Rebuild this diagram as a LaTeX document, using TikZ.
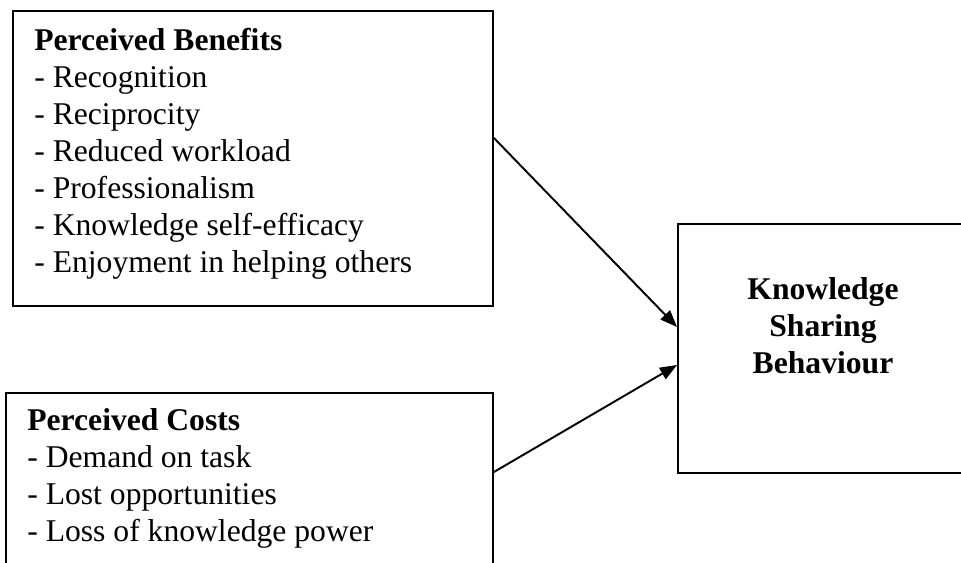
\documentclass[tikz,border=0pt]{standalone}
\usepackage{fontspec}
\setmainfont{Liberation Serif}
\usetikzlibrary{arrows.meta}

\tikzset{
  box/.style={draw=black, line width=1.1pt, rectangle, inner sep=0pt, anchor=north west},
  listtext/.style={align=left, inner sep=0pt, anchor=north west, font=\fontsize{18}{21}\selectfont},
  headtext/.style={align=center, inner sep=0pt, anchor=north, font=\fontsize{18}{21}\selectfont\bfseries},
  link/.style={draw=black, line width=1.1pt, -{Triangle[length=0.34cm,width=0.26cm]}}
}

\begin{document}
\begin{tikzpicture}
            \clip (0,0) rectangle (19.22,11.26);

            % the three boxes
            \node[box, minimum width=9.60cm, minimum height=5.90cm] (benefits) at (0.24,11.06) {};
            \node[box, minimum width=9.74cm, minimum height=4.50cm] (costs) at (0.10,3.42) {};
            \node[box, minimum width=5.86cm, minimum height=4.98cm] (behaviour) at (13.54,6.80) {};

            % their texts
            \node[listtext] (benefitslist) at (0.68,10.70) {\textbf{Perceived Benefits}\\- Recognition\\- Reciprocity\\- Reduced workload\\- Professionalism\\- Knowledge self-efficacy\\- Enjoyment in helping others};
            \node[listtext] (costslist) at (0.54,3.10) {\textbf{Perceived Costs}\\- Demand on task\\- Lost opportunities\\- Loss of knowledge power};
            \node[headtext] (behaviourtext) at (16.46,5.72) {Knowledge\\Sharing\\Behaviour};

            % arrows
            \coordinate (benefitsout) at ([yshift=-2.56cm]benefits.north east);
            \coordinate (costsout) at ([yshift=-1.60cm]costs.north east);
            \coordinate (behaviourin1) at ([yshift=-2.08cm]behaviour.north west);
            \coordinate (behaviourin2) at ([yshift=-2.84cm]behaviour.north west);
            \draw[link] (benefitsout) -- (behaviourin1);
            \draw[link] (costsout) -- (behaviourin2);

        \end{tikzpicture}
\end{document}
